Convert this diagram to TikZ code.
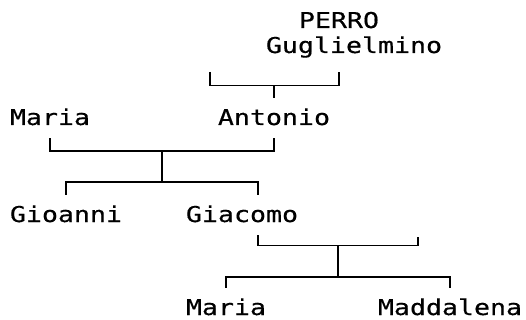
\documentclass[tikz,border=0pt]{standalone}
\usepackage{fontspec}
\newfontfamily\persfont{DejaVu Sans Mono}[FakeStretch=1.22, FakeBold=0.4]
\usetikzlibrary{calc}

\begin{document}
\begin{tikzpicture}[
        x=1pt, y=-1pt,
        every node/.style={font=\persfont\fontsize{21.8}{25}\selectfont, inner sep=0pt,
            anchor=base, text height=27pt, text depth=0pt},
        parent/.style={text depth=13pt},
        link/.style={line width=1.4pt}
    ]

    \useasboundingbox (0,0) rectangle (526,320);

    \node (Per) at (339,28) {PERRO};
    \node (Gug) at (354,53) {Guglielmino};
    \node[parent] (MarA) at (50,125) {Maria};
    \node[parent] (Ant) at (274,125) {Antonio};
    \node (Gio) at (66,222) {Gioanni};
    \node[parent] (Gia) at (242,222) {Giacomo};
    \node (MarB) at (226,315) {Maria};
    \node (Mad) at (450,315) {Maddalena};

    \coordinate (spA) at (210,72);
    \coordinate (spC) at (418,237);

    \draw[link] (spA) -- ++(0,13.5) coordinate (jA) -| (spA -| Per.south);
    \draw[link] (jA -| Ant.north) -- (Ant.north);

    \draw[link] (MarA.south) -- ++(0,13) coordinate (jB) -| (Ant.south);
    \draw[link] (Gio.north) -- ++(0,-13) coordinate (kB) -| ([xshift=16pt]Gia.north);
    \coordinate (mB) at ($(jB)!0.5!(jB -| Ant.south)$);
    \draw[link] (mB) -- (mB |- kB);

    \draw[link] ([xshift=16pt]Gia.south) -- ++(0,10) coordinate (jC) -| (spC);
    \draw[link] (MarB.north) -- ++(0,-11) coordinate (kC) -| (Mad.north);
    \coordinate (mC) at ($(jC)!0.5!(jC -| spC)$);
    \draw[link] (mC) -- (mC |- kC);
    \end{tikzpicture}
\end{document}
